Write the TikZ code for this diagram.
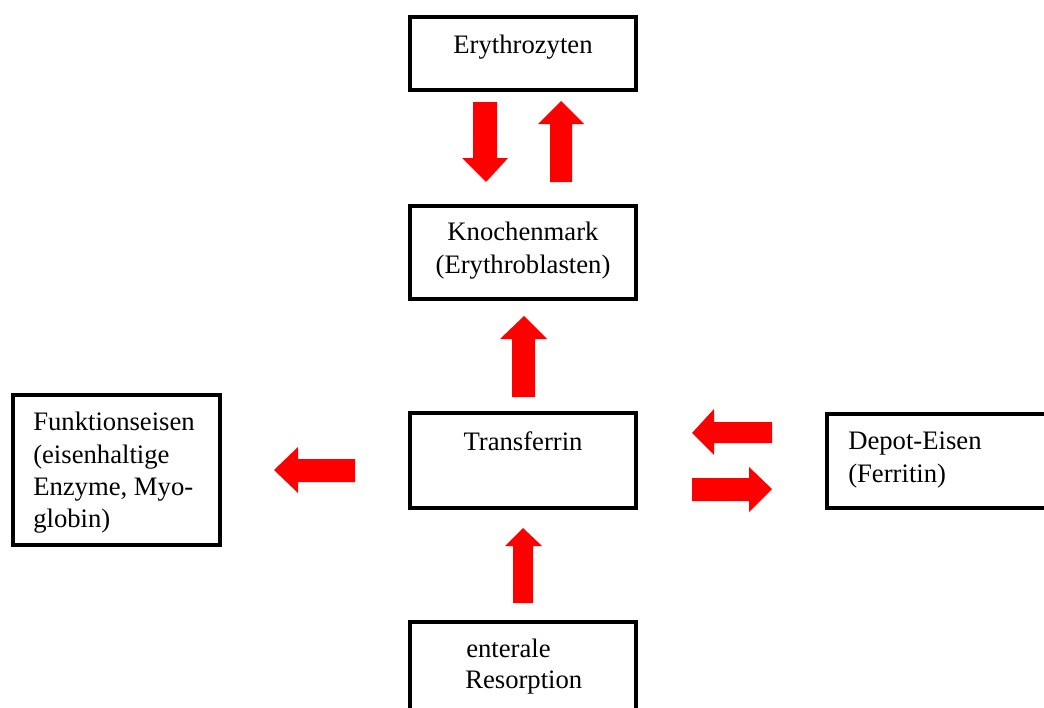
\documentclass[tikz,border=0pt]{standalone}
\usepackage{fontspec}
\setmainfont{Liberation Serif}
\begin{document}
\begin{tikzpicture}[x=0.75pt,y=-0.75pt,
  box/.style={draw=black,line width=2.9pt,inner sep=0pt,outer sep=0pt,anchor=north west},
  txt/.style={inner sep=0pt,font=\fontsize{20}{25}\selectfont},
  blockarrow/.style={fill=red,draw=none}]
\useasboundingbox (0,0) rectangle (1044,707);
\clip (0,0) rectangle (1044,707);
\fill[white] (0,0) rectangle (1044,707);
% boxes
\node[box,minimum width=226*0.75pt,minimum height=73*0.75pt] (ery) at (410,17) {};
\node[box,minimum width=226*0.75pt,minimum height=93*0.75pt] (kno) at (410,206) {};
\node[box,minimum width=226*0.75pt,minimum height=95*0.75pt] (tra) at (410,413) {};
\node[box,minimum width=226*0.75pt,minimum height=110*0.75pt] (ent) at (410,622) {};
\node[box,minimum width=207*0.75pt,minimum height=150*0.75pt] (fun) at (13,395) {};
\node[box,minimum width=240*0.75pt,minimum height=94*0.75pt] (dep) at (827,414) {};
% texts
\node[txt,anchor=base] (t1) at (523,53) {Erythrozyten};
\node[txt,anchor=base] (t2) at (523,240) {Knochenmark};
\node[txt,anchor=base] (t3) at (523,273) {(Erythroblasten)};
\node[txt,anchor=base] (t4) at (523,450) {Transferrin};
\node[txt,anchor=base west] (t5) at (466,657) {enterale};
\node[txt,anchor=base west] (t6) at (465,688) {Resorption};
\node[txt,anchor=base west] (t7) at (33,430) {Funktionseisen};
\node[txt,anchor=base west] (t8) at (33,463) {(eisenhaltige};
\node[txt,anchor=base west] (t9) at (33,495) {Enzyme, Myo-};
\node[txt,anchor=base west] (t10) at (33,527) {globin)};
\node[txt,anchor=base west] (t11) at (848,449) {Depot-Eisen};
\node[txt,anchor=base west] (t12) at (848,482) {(Ferritin)};
% block arrows
\fill[blockarrow] (473,102) -- (497,102) -- (497,158) -- (508,158) -- (486,182) -- (462,158) -- (473,158) -- cycle;
\fill[blockarrow] (550,182) -- (572,182) -- (572,124) -- (584,124) -- (561,101) -- (538,124) -- (550,124) -- cycle;
\fill[blockarrow] (512,397) -- (535,397) -- (535,339) -- (547,339) -- (524,316) -- (500,339) -- (512,339) -- cycle;
\fill[blockarrow] (355,459) -- (355,482) -- (298,482) -- (298,493) -- (274,470) -- (298,447) -- (298,459) -- cycle;
\fill[blockarrow] (772,422) -- (772,443) -- (714,443) -- (714,455) -- (692,433) -- (714,409) -- (714,422) -- cycle;
\fill[blockarrow] (692,478) -- (749,478) -- (749,467) -- (772,489) -- (749,512) -- (749,501) -- (692,501) -- cycle;
\fill[blockarrow] (513,603) -- (533,603) -- (533,546) -- (542,546) -- (523,528) -- (505,546) -- (513,546) -- cycle;
\end{tikzpicture}
\end{document}
